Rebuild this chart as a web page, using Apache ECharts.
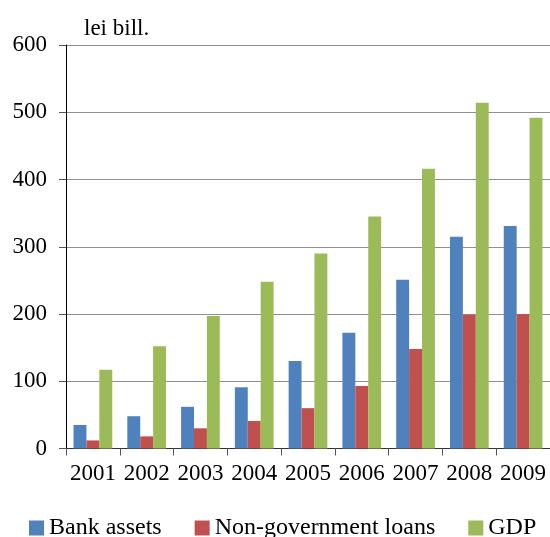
<!DOCTYPE html>
<html>
<head>
<meta charset="utf-8">
<script src="https://cdn.jsdelivr.net/npm/echarts@6/dist/echarts.min.js"></script>
<style>
  html, body { margin: 0; padding: 0; background: #fff; }
  #chart { width: 550px; height: 537px; }
</style>
</head>
<body>
<div id="chart"></div>
<script>
// Years on the category axis
const years = ['2001', '2002', '2003', '2004', '2005', '2006', '2007', '2008', '2009'];

// Values in lei billions
const bankAssets = [35, 48, 62, 91, 130, 172, 251, 315, 331];
const nonGovLoans = [12, 18, 30, 41, 60, 93, 148, 199, 200];
const gdp = [117, 152, 197, 248, 290, 345, 416, 514, 492];

// Value axis ticks
const yMin = 0, yMax = 600, yStep = 100;

const serif = '"Liberation Serif", "Times New Roman", serif';
const colors = ['#4F81BD', '#C0504D', '#9BBB59'];

const chart = echarts.init(document.getElementById('chart'), null, { renderer: 'canvas' });

chart.setOption({
  animation: false,
  backgroundColor: '#ffffff',
  color: colors,
  title: {
    text: 'lei bill.',
    left: 79,
    top: 12,
    textStyle: { fontFamily: serif, fontSize: 23, fontWeight: 'normal', color: '#000' }
  },
  grid: {
    left: 66,
    top: 45,
    width: 487,
    bottom: 88.5,
    containLabel: false
  },
  legend: {
    left: 29,
    top: 516,
    padding: 0,
    itemWidth: 15,
    itemHeight: 15,
    itemGap: 33,
    icon: 'rect',
    textStyle: { fontFamily: serif, fontSize: 24, color: '#000' },
    data: ['Bank assets', 'Non-government loans', 'GDP']
  },
  xAxis: {
    type: 'category',
    data: years,
    axisLine: { show: true, lineStyle: { color: '#333', width: 1 } },
    axisTick: { show: true, length: 7, interval: 0, lineStyle: { color: '#555' } },
    axisLabel: { interval: 0, fontFamily: serif, fontSize: 23, color: '#000', margin: 14 },
    splitLine: { show: false }
  },
  yAxis: {
    type: 'value',
    min: yMin,
    max: yMax,
    interval: yStep,
    axisLine: { show: true, lineStyle: { color: '#000', width: 1 } },
    axisTick: { show: true, length: 7, lineStyle: { color: '#555' } },
    axisLabel: { fontFamily: serif, fontSize: 23, color: '#000', margin: 19 },
    splitLine: { show: true, lineStyle: { color: '#8f8f8f', width: 1 } }
  },
  series: [
    { name: 'Bank assets', type: 'bar', data: bankAssets, barGap: '0%', barCategoryGap: '28%' },
    { name: 'Non-government loans', type: 'bar', data: nonGovLoans, barGap: '0%', barCategoryGap: '28%' },
    { name: 'GDP', type: 'bar', data: gdp, barGap: '0%', barCategoryGap: '28%' }
  ]
});
</script>
</body>
</html>
